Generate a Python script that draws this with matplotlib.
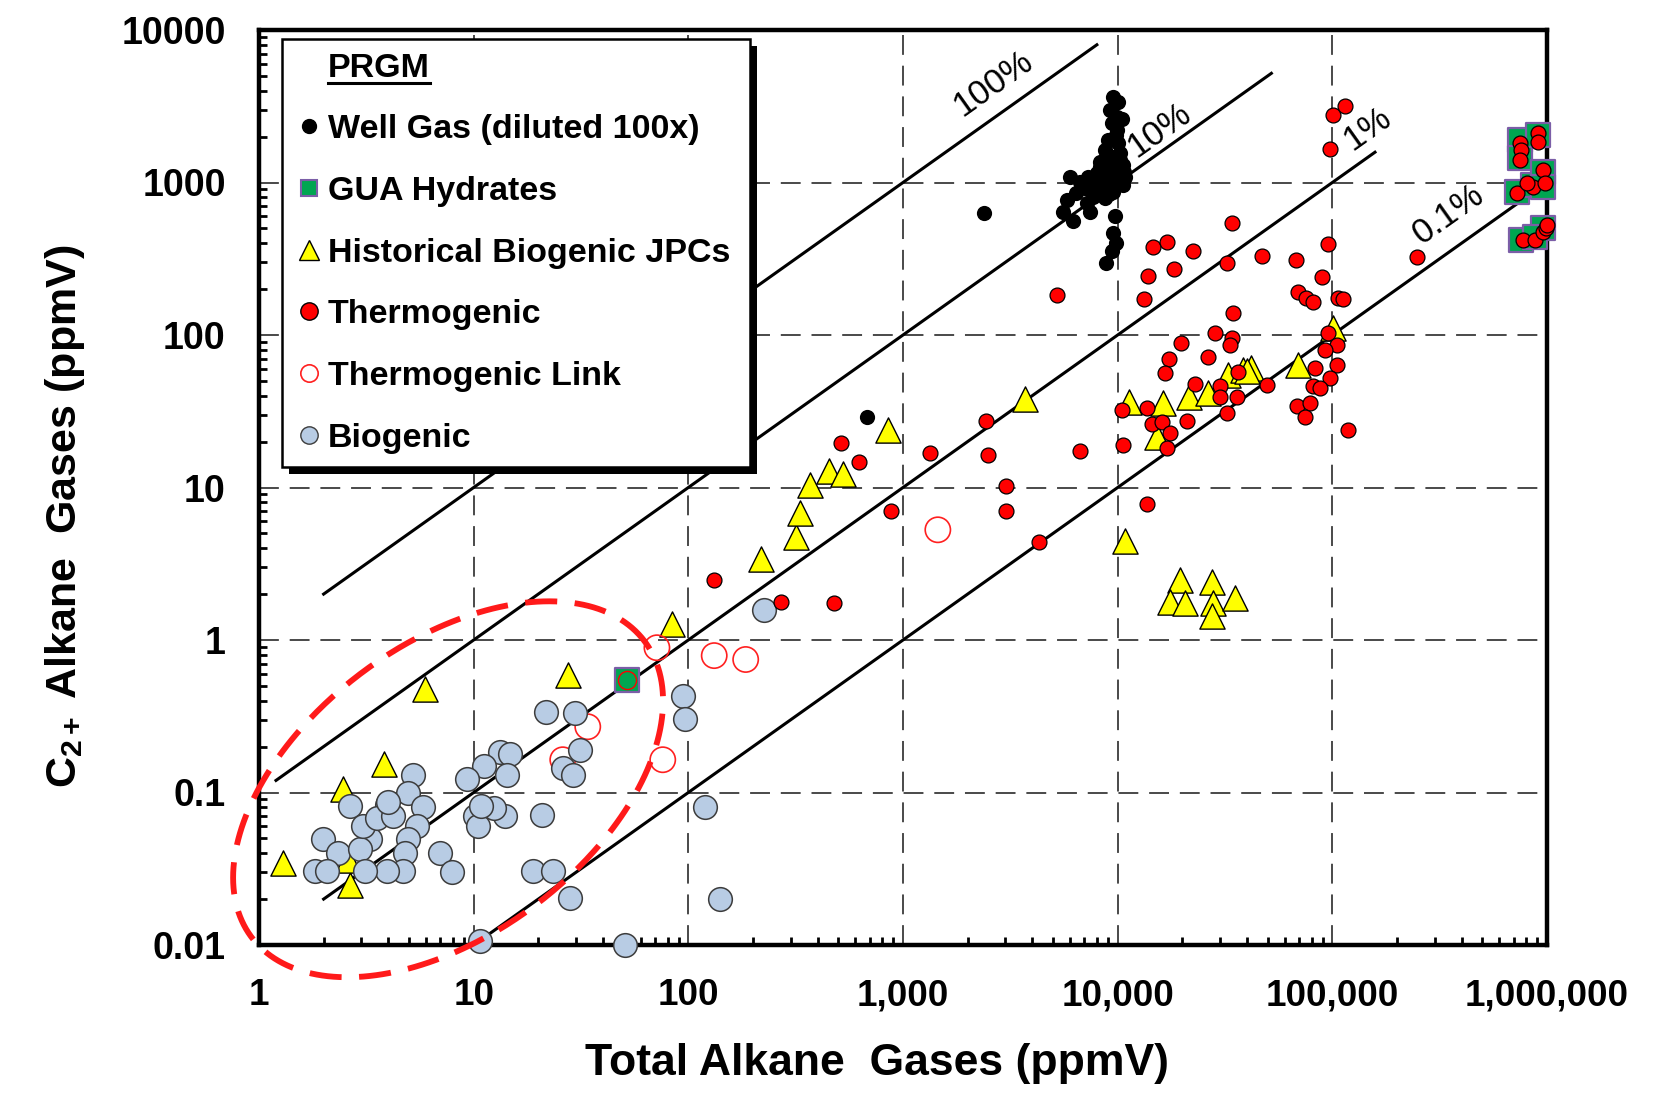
import numpy as np
import matplotlib
matplotlib.use("Agg")
import matplotlib.pyplot as plt
from matplotlib.lines import Line2D
from matplotlib.patches import Rectangle
from matplotlib.ticker import LogLocator, NullFormatter
from matplotlib.transforms import IdentityTransform

plt.rcParams['font.family'] = ['Liberation Sans', 'DejaVu Sans']
plt.rcParams['mathtext.fontset'] = 'custom'
plt.rcParams['mathtext.rm'] = 'Liberation Sans:bold'
plt.rcParams['mathtext.bf'] = 'Liberation Sans:bold'
plt.rcParams['mathtext.it'] = 'Liberation Sans:bold'

# ---------------- data ----------------
x_ticks = [1, 10, 100, 1000, 10000, 100000, 1000000]
x_tick_labels = ['1', '10', '100', '1,000', '10,000', '100,000', '1,000,000']
y_ticks = [0.01, 0.1, 1, 10, 100, 1000, 10000]
y_tick_labels = ['0.01', '0.1', '1', '10', '100', '1000', '10000']

# ratio lines C2+ = frac * total
ratio_fracs = [1.0, 0.1, 0.01, 0.001]
ratio_labels = ['100%', '10%', '1%', '0.1%']
ratio_x_start = [2, 1.2, 2, 10]
ratio_x_end = [8000, 52000, 158000, 720000]
ratio_label_x = [2620, 15700, 146000, 348000]
ratio_label_y = [4430, 2210, 2240, 622]

well_x = [9530, 10060, 9200, 9880, 9360, 9880, 9030, 10060, 8720, 9530,
          10240, 8260, 9710, 10600, 8720, 7970, 10240, 7290, 9030, 10800,
          5990, 6670, 7970, 9530, 10600, 7040, 8260, 9530, 6430, 7690,
          8720, 5780, 7160, 5580, 6210, 7420, 9710, 9530, 9800, 9360,
          8810, 2380, 680, 9200, 9900, 10400, 8500, 9600, 8900, 10300,
          9400, 10700, 8100, 8600, 9100, 10100, 7600, 9800, 10500, 8300]
well_y = [3660, 3390, 2990, 2700, 2440, 2210, 1900, 1810, 1640, 1480,
          1410, 1370, 1270, 1300, 1210, 1150, 1150, 1090, 1090, 1090,
          1090, 1010, 990, 990, 964, 917, 893, 872, 851, 809,
          789, 769, 731, 645, 555, 645, 599, 466, 400, 353,
          296, 630, 29, 1200, 1100, 1220, 1020, 930, 1320, 1560,
          1050, 1180, 950, 1120, 840, 1380, 1000, 2050, 2600, 1260]

gua_x = [747000, 747000, 906000, 724000, 859000, 955000, 955000, 757000, 955000, 877000, 51.6]
gua_y = [1900, 1450, 2050, 867, 964, 1170, 936, 421, 504, 440, 0.55]
gua_core_x = [51.6]
gua_core_y = [0.55]

jpc_x = [1.29, 2.46, 3.82, 2.65, 5.93, 27.5, 84, 218, 317, 332,
         368, 450, 528, 851, 3720, 10800, 19500, 27400, 17600, 20700,
         27700, 35300, 27400, 11300, 16200, 15200, 21500, 26300, 32600, 38300,
         41700, 40000, 69000, 100500, 2.6]
jpc_y = [0.0343, 0.105, 0.153, 0.0249, 0.48, 0.593, 1.28, 3.41, 4.76, 6.8,
         10.4, 12.8, 12.3, 23.9, 38, 4.44, 2.49, 2.41, 1.78, 1.76,
         1.76, 1.89, 1.43, 36.5, 36, 21.5, 39.4, 41.8, 54.9, 59.2,
         61, 58, 63.8, 111, 0.036]

thermo_x = [100500, 114000, 97300, 248000, 14600, 16900, 22400, 34000, 32300, 47000,
            67600, 95300, 89300, 13800, 18300, 13200, 69000, 75300, 81100, 106000,
            112000, 5210, 34400, 28400, 34000, 33300, 26300, 19700, 17300, 16600,
            22900, 95300, 105000, 92300, 105000, 82800, 97300, 81100, 87500, 49500,
            36300, 29900, 29900, 35900, 32300, 68400, 78500, 74500, 118000, 10500,
            13700, 14400, 16100, 17500, 21000, 16900, 10600, 6670, 13700, 2430,
            2490, 1330, 514, 623, 132, 270, 476, 882, 3010, 3010,
            4290, 906000, 906000, 747000, 760000, 747000, 724000, 859000, 955000, 978000,
            805000, 771000, 877000, 955000, 990000, 1000000]
thermo_y = [2770, 3180, 1660, 325, 378, 408, 356, 543, 297, 330,
            311, 396, 240, 244, 272, 173, 192, 175, 165, 175,
            172, 183, 140, 103, 96, 86, 72, 89, 70, 56.5,
            48, 103, 86, 80, 64, 61, 52.5, 46, 45, 47,
            57, 46, 39, 39, 31, 34, 36, 29, 24, 32.4,
            33.4, 26.2, 27, 22.9, 27.4, 18.2, 19.1, 17.4, 7.83, 27.4,
            16.4, 16.9, 19.7, 14.6, 2.49, 1.77, 1.75, 6.97, 10.3, 7.05,
            4.37, 2110, 1845, 1820, 1635, 1406, 855, 936, 1210, 994,
            994, 421, 421, 474, 504, 527]

link_x = [1453, 132, 185, 71.4, 34, 76, 26]
link_y = [5.28, 0.79, 0.745, 0.89, 0.27, 0.164, 0.164]

bio_x = [21.7, 13.2, 14.8, 11.2, 9.27, 14.3, 5.23, 4.96, 3.93, 5.83,
         5.42, 4.96, 4.78, 4.7, 3.93, 2.65, 3.29, 1.99, 2.34, 2.95,
         1.82, 2.07, 3.12, 3.06, 3.53, 4.22, 6.97, 7.89, 10.1, 10.5,
         14, 12.4, 20.9, 18.9, 23.5, 28, 10.7, 50.7, 94.7, 96.4,
         31.3, 26.1, 29.1, 29.6, 119, 140, 224, 4.0, 10.8]
bio_y = [0.338, 0.184, 0.18, 0.15, 0.123, 0.131, 0.131, 0.0995, 0.0822, 0.0806,
         0.0601, 0.0492, 0.0403, 0.0305, 0.0305, 0.0813, 0.0498, 0.0498, 0.0403, 0.0428,
         0.0305, 0.0305, 0.0305, 0.0601, 0.0683, 0.0699, 0.0403, 0.030, 0.0699, 0.0601,
         0.0699, 0.0794, 0.0707, 0.0305, 0.0305, 0.0204, 0.0106, 0.01, 0.43, 0.303,
         0.191, 0.145, 0.131, 0.333, 0.0798, 0.0199, 1.58, 0.087, 0.082]

# ---------------- figure ----------------
W, H = 1656, 1098
fig = plt.figure(figsize=(W / 100, H / 100), dpi=100)
ax = fig.add_axes([259 / W, 1 - 945 / H, 1288 / W, 915 / H])
ax.set_xscale('log')
ax.set_yscale('log')
ax.set_xlim(1, 1e6)
ax.set_ylim(0.01, 1e4)

ax.set_xticks(x_ticks)
ax.set_xticklabels(x_tick_labels, fontsize=26.5, fontweight='bold')
ax.set_yticks(y_ticks)
ax.set_yticklabels(y_tick_labels, fontsize=27, fontweight='bold')
ax.xaxis.set_minor_locator(LogLocator(base=10, subs=range(2, 10), numticks=20))
ax.yaxis.set_minor_locator(LogLocator(base=10, subs=range(2, 10), numticks=20))
ax.xaxis.set_minor_formatter(NullFormatter())
ax.yaxis.set_minor_formatter(NullFormatter())
ax.tick_params(which='both', direction='in', top=False, right=False)
ax.tick_params(which='major', length=0, pad=24)
ax.tick_params(which='minor', length=6, width=2)
for s in ax.spines.values():
    s.set_linewidth(3.2)

ax.grid(which='major', linestyle=(0, (11, 6)), color='#3a3a3a', linewidth=1.3)
ax.set_axisbelow(True)

# ratio lines
p0 = ax.transData.transform((1, 1))
p1 = ax.transData.transform((10, 10))
line_angle = np.degrees(np.arctan2(p1[1] - p0[1], p1[0] - p0[0]))
for f, x0, x1, lab, lx, ly in zip(ratio_fracs, ratio_x_start, ratio_x_end,
                                  ratio_labels, ratio_label_x, ratio_label_y):
    ax.plot([x0, x1], [f * x0, f * x1], color='black', lw=2.2, zorder=2)
    ax.text(lx, ly, lab, fontsize=25, rotation=line_angle, rotation_mode='anchor',
            ha='center', va='center', zorder=3)

# scatter series
ax.scatter(jpc_x, jpc_y, marker='^', s=330, facecolor='#ffff00', edgecolor='black',
           linewidth=1.0, zorder=4, clip_on=False)
ax.scatter(gua_x, gua_y, marker='s', s=300, facecolor='#00a651', edgecolor='#7b5ea7',
           linewidth=1.6, zorder=4.2, clip_on=False)
ax.scatter(link_x, link_y, marker='o', s=330, facecolor='none', edgecolor='#ff2020',
           linewidth=1.2, zorder=4.3, clip_on=False)
ax.scatter(bio_x, bio_y, marker='o', s=290, facecolor='#b8cce4', edgecolor='#3c3c3c',
           linewidth=1.1, zorder=4.4, clip_on=False)
ax.scatter(thermo_x, thermo_y, marker='o', s=115, facecolor='#ff0000', edgecolor='black',
           linewidth=0.9, zorder=4.6, clip_on=False)
ax.scatter(gua_core_x, gua_core_y, marker='o', s=170, facecolor='#00a651', edgecolor='#ff0000',
           linewidth=1.0, zorder=4.6, clip_on=False)
ax.scatter(well_x, well_y, marker='o', s=120, facecolor='black', edgecolor='black',
           linewidth=0, zorder=4.7, clip_on=False)

# dashed ellipse around the biogenic cluster (drawn in screen pixels)
ell_center = (7.6, 0.105)
ell_a, ell_b, ell_theta = 246, 145, np.radians(37)
cpx = ax.transData.transform(ell_center)
t = np.linspace(0, 2 * np.pi, 400)
ex = cpx[0] + ell_a * np.cos(t) * np.cos(ell_theta) - ell_b * np.sin(t) * np.sin(ell_theta)
ey = cpx[1] + ell_a * np.cos(t) * np.sin(ell_theta) + ell_b * np.sin(t) * np.cos(ell_theta)
ell_data = ax.transData.inverted().transform(np.column_stack([ex, ey]))
ax.plot(ell_data[:, 0], ell_data[:, 1], color='#ff1a1a', lw=4.2,
        linestyle=(0, (5.5, 3.0)), zorder=6, clip_on=False)

# axis labels
ax.set_xlabel('Total Alkane  Gases (ppmV)', fontsize=32, fontweight='bold')
ax.xaxis.set_label_coords(0.48, -0.13)
ax.xaxis.label.set_va('center')
ax.set_ylabel(r'C$_{\mathbf{2+}}$ Alkane  Gases (ppmV)', fontsize=31, fontweight='bold')
ax.yaxis.set_label_coords(-0.151, 0.469)
ax.yaxis.label.set_va('center')

# legend
handles = [
    Line2D([], [], linestyle='none', label='PRGM'),
    Line2D([], [], linestyle='none', marker='o', ms=10, mfc='black', mec='black',
           label='Well Gas (diluted 100x)'),
    Line2D([], [], linestyle='none', marker='s', ms=12, mfc='#00a651', mec='#7b5ea7',
           mew=1.5, label='GUA Hydrates'),
    Line2D([], [], linestyle='none', marker='^', ms=14, mfc='#ffff00', mec='black',
           mew=1.0, label='Historical Biogenic JPCs'),
    Line2D([], [], linestyle='none', marker='o', ms=12.5, mfc='#ff0000', mec='black',
           mew=1.0, label='Thermogenic'),
    Line2D([], [], linestyle='none', marker='o', ms=12.5, mfc='white', mec='#ff2020',
           mew=1.2, label='Thermogenic Link'),
    Line2D([], [], linestyle='none', marker='o', ms=12.5, mfc='#b8cce4', mec='#3c3c3c',
           mew=1.0, label='Biogenic'),
]
leg = ax.legend(handles=handles, loc='upper left', bbox_to_anchor=(0.018, 0.0, 0.363, 0.99),
                mode='expand', borderaxespad=0, frameon=True, fancybox=False, edgecolor='black',
                framealpha=1, prop={'weight': 'bold', 'size': 24.5}, handlelength=0.8,
                handletextpad=0.15, borderpad=0.4, labelspacing=0.9)
leg.get_frame().set_linewidth(1.8)
leg.set_zorder(5)

fig.canvas.draw()
renderer = fig.canvas.get_renderer()
bb = leg.get_window_extent(renderer)
ax.add_patch(Rectangle((bb.x0 + 7, bb.y0 - 7), bb.width, bb.height, transform=IdentityTransform(),
                       facecolor='black', edgecolor='none', zorder=4.9, clip_on=False))
tb = leg.get_texts()[0].get_window_extent(renderer)
fig.add_artist(Line2D([tb.x0, tb.x1], [tb.y0 + 1, tb.y0 + 1], transform=IdentityTransform(),
                      color='black', lw=2.2))

fig.savefig('out.png', dpi=100)
